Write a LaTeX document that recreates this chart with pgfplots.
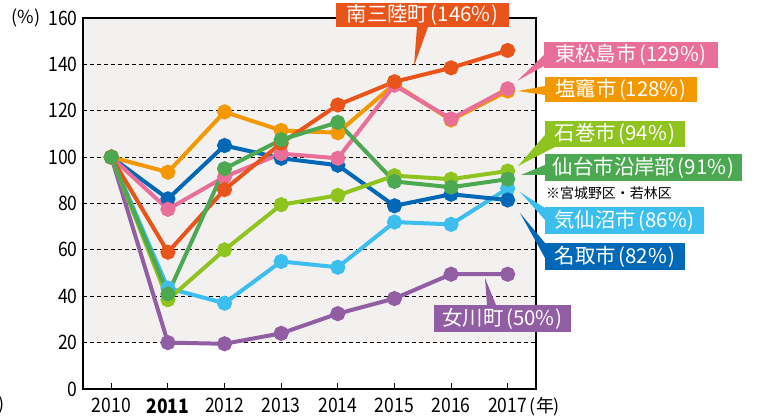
\documentclass[border=0pt]{standalone}
\usepackage{fontspec}
\setmainfont{Noto Sans CJK JP}
\newfontfamily\tickfont{Noto Sans CJK JP}[FakeStretch=0.88]
\usepackage{pgfplots}
\pgfplotsset{compat=1.18}
\usetikzlibrary{calc}

\definecolor{cMinami}{HTML}{E8541A}
\definecolor{cShio}{HTML}{F39800}
\definecolor{cHigashi}{HTML}{E96E99}
\definecolor{cNatori}{HTML}{0068B7}
\definecolor{cSendai}{HTML}{4CA952}
\definecolor{cIshi}{HTML}{8FC31F}
\definecolor{cKese}{HTML}{3CBEEE}
\definecolor{cOna}{HTML}{915DA3}
\definecolor{bandgray}{HTML}{F2F1F0}

% box (x1,y1)-(x2,y2) in reference pixels, text centred
\newcommand{\callout}[5]{%
  \fill[#1] #2 rectangle #3;
  \node[text=white, font=\fontsize{20.5}{20.5}\selectfont, inner sep=0pt]
    at ($#2!0.5!#3$) {#4\kern2.5bp(#5\%\kern1bp)};}

\begin{document}
\begin{tikzpicture}
\begin{axis}[
  at={(83bp,27bp)}, anchor=south west,
  scale only axis, width=453bp, height=371bp,
  xmin=2009.5, xmax=2017.5, ymin=0, ymax=160,
  xtick={2010,2011,2012,2013,2014,2015,2016,2017},
  xticklabels={2010,\textbf{2011},2012,2013,2014,2015,2016,2017},
  ytick={0,20,40,60,80,100,120,140,160},
  ymajorgrids,
  grid style={black, line width=0.8bp, dash pattern=on 4bp off 3bp},
  tick pos=left, tick align=inside,
  ytick style={draw=none},
  xtick style={black, line width=1bp},
  major tick length=6bp,
  axis line style={black, line width=1.3bp},
  tick label style={font=\tickfont\fontsize{20}{20}\selectfont},
  /pgf/number format/assume math mode=true,
  yticklabel style={xshift=-2bp},
  xticklabel style={yshift=-6bp},
  set layers, clip=false,
  every axis plot/.append style={line width=4bp, mark=*, mark size=5.5bp},
]
\begin{pgfonlayer}{axis background}
\fill[bandgray] (axis cs:2009.5,20) rectangle (axis cs:2017.5,160);
\end{pgfonlayer}

% 女川町
\addplot[cOna] coordinates {
  (2010,100) (2011,20) (2012,19.5) (2013,24) (2014,32.5) (2015,39) (2016,49.5) (2017,49.5)};
% 気仙沼市
\addplot[cKese] coordinates {
  (2010,100) (2011,43.5) (2012,37) (2013,55) (2014,52.5) (2015,72) (2016,71) (2017,86.5)};
% 名取市
\addplot[cNatori] coordinates {
  (2010,100) (2011,82) (2012,105) (2013,99.5) (2014,96.5) (2015,79) (2016,84) (2017,81.5)};
% 石巻市
\addplot[cIshi] coordinates {
  (2010,100) (2011,38.5) (2012,60) (2013,79.5) (2014,83.5) (2015,92) (2016,90.5) (2017,94)};
% 塩竈市
\addplot[cShio] coordinates {
  (2010,100) (2011,93.5) (2012,119.5) (2013,111.5) (2014,110.5) (2015,131.5) (2016,116) (2017,128.5)};
% 東松島市
\addplot[cHigashi] coordinates {
  (2010,100) (2011,77.5) (2012,91.5) (2013,101.5) (2014,99.5) (2015,131) (2016,116.5) (2017,129.5)};
% 南三陸町
\addplot[cMinami] coordinates {
  (2010,100) (2011,59) (2012,86) (2013,106) (2014,122.5) (2015,132.5) (2016,138.5) (2017,146)};
% 仙台市沿岸部
\addplot[cSendai] coordinates {
  (2010,100) (2011,41) (2012,95) (2013,107.5) (2014,115) (2015,89.5) (2016,87) (2017,90.5)};
\end{axis}

\begin{scope}[x=1bp, y=-1bp, shift={(0,416bp)}]
  \node[font=\fontsize{18}{18}\selectfont] at (26,18) {(\%)};
  \node[font=\fontsize{18}{18}\selectfont] at (545,407) {(年)};
  \node[font=\fontsize{18}{18}\selectfont, anchor=east, inner sep=0pt] at (5,405) {)};

  \fill[cMinami] (417,27) -- (414,66) -- (428,27) -- cycle;
  \callout{cMinami}{(336,3)}{(509,27)}{南三陸町}{146}

  \fill[cHigashi] (544,55) -- (517,81) -- (544,66) -- cycle;
  \callout{cHigashi}{(544,42)}{(718,68)}{東松島市}{129}

  \fill[cShio] (545,86) -- (518,91) -- (545,95) -- cycle;
  \callout{cShio}{(545,77)}{(697,102)}{塩竈市}{128}

  \fill[cIshi] (545,135) -- (518,166) -- (555,147) -- cycle;
  \callout{cIshi}{(545,121)}{(685,147)}{石巻市}{94}

  \fill[cSendai] (545,165) -- (521,175) -- (545,175) -- cycle;
  \callout{cSendai}{(545,154)}{(742,181)}{仙台市沿岸部}{91}

  \node[font=\fontsize{14}{14}\selectfont, anchor=west, inner sep=0pt] at (546,193) {※宮城野区・若林区};

  \fill[cKese] (545,208) -- (520,192) -- (545,220) -- cycle;
  \callout{cKese}{(545,207)}{(704,234)}{気仙沼市}{86}

  \fill[cNatori] (545,243) -- (520,213) -- (545,258) -- cycle;
  \callout{cNatori}{(545,243)}{(685,270)}{名取市}{82}

  \fill[cOna] (487,305) -- (485,278) -- (496,305) -- cycle;
  \callout{cOna}{(434,305)}{(571,332)}{女川町}{50}
\end{scope}
\pgfresetboundingbox
\path[use as bounding box] (0,0) rectangle (757bp,416bp);
\end{tikzpicture}
\end{document}
